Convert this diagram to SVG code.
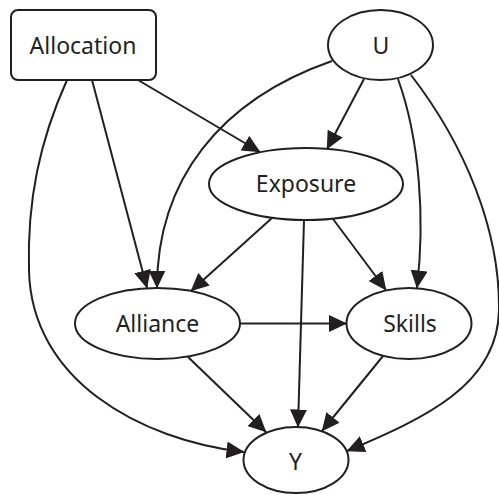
<svg xmlns="http://www.w3.org/2000/svg" width="499" height="495" viewBox="0 0 499 495">
  <style>
    .node { fill: #ffffff; stroke: #231f20; stroke-width: 2; }
    .label { font-family: "Noto Sans", "Open Sans", sans-serif; font-size: 23px; fill: #231f20; text-anchor: middle; }
    .edge { fill: none; stroke: #231f20; stroke-width: 2; marker-end: url(#arrow); }
  </style>
  <defs>
    <marker id="arrow" markerUnits="userSpaceOnUse" viewBox="0 0 18 17" markerWidth="18" markerHeight="17" refX="17.5" refY="8.5" orient="auto">
      <path d="M0,0 L18,8.5 L0,17 z" fill="#231f20"/>
    </marker>
  </defs>
  <rect width="499" height="495" fill="#ffffff"/>
  <g id="edges">
    <path class="edge" d="M138,80 L260,152"/>
    <path class="edge" d="M92,80 L147,288"/>
    <path class="edge" d="M67,80 C40,140 27,200 29,270 C31,380 140,440 244,452"/>
    <path class="edge" d="M364,79 L327,149"/>
    <path class="edge" d="M332,61 C220,100 157,180 157,288"/>
    <path class="edge" d="M398,79 C420,140 425,220 417,288"/>
    <path class="edge" d="M411,75 C465,145 500,230 499,310 C498,385 425,418 347,451"/>
    <path class="edge" d="M272,218 L191,291"/>
    <path class="edge" d="M333,219 L386,290"/>
    <path class="edge" d="M304,220 L298,427"/>
    <path class="edge" d="M240,323.5 L346.5,323.5"/>
    <path class="edge" d="M188,357 L266,432"/>
    <path class="edge" d="M383,356 L322,431"/>
  </g>
  <g id="Allocation">
    <rect class="node" x="11" y="10" width="145" height="70" rx="7"/>
    <text class="label" x="83" y="53.5">Allocation</text>
  </g>
  <g id="U">
    <ellipse class="node" cx="380.5" cy="45" rx="52.5" ry="35"/>
    <text class="label" x="381" y="53.5">U</text>
  </g>
  <g id="Exposure">
    <ellipse class="node" cx="306" cy="184" rx="97" ry="36"/>
    <text class="label" x="306" y="192">Exposure</text>
  </g>
  <g id="Alliance">
    <ellipse class="node" cx="157.5" cy="323.5" rx="82.5" ry="35.5"/>
    <text class="label" x="157.5" y="331.5">Alliance</text>
  </g>
  <g id="Skills">
    <ellipse class="node" cx="409" cy="323.5" rx="62.5" ry="35.5"/>
    <text class="label" x="410" y="331.5">Skills</text>
  </g>
  <g id="Y">
    <ellipse class="node" cx="296" cy="460" rx="52.5" ry="33"/>
    <text class="label" x="295.5" y="470">Y</text>
  </g>
</svg>
